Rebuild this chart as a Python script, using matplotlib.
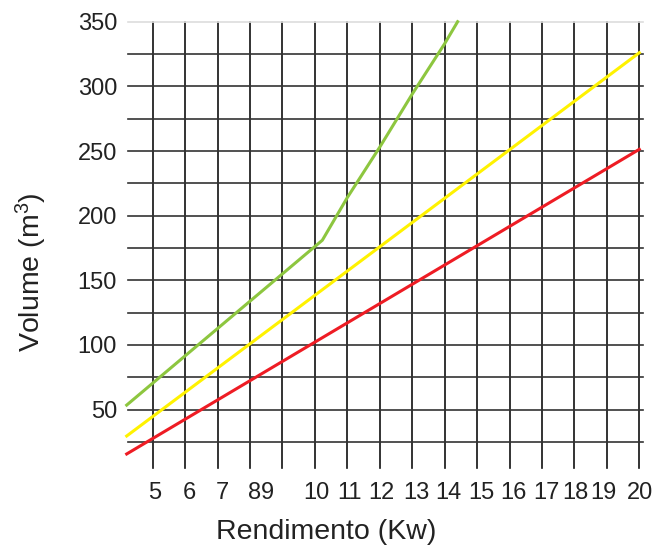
import numpy as np
import matplotlib
matplotlib.use("Agg")
import matplotlib.pyplot as plt

plt.rcParams['font.family'] = ['Liberation Sans', 'DejaVu Sans']
plt.rcParams['mathtext.fontset'] = 'custom'
plt.rcParams['mathtext.rm'] = 'Liberation Sans'
plt.rcParams['mathtext.default'] = 'regular'

# x positions are measured in grid columns (16 vertical lines, 0..15)
grid_cols = list(range(16))
tick_pos = [0.07, 1.12, 2.15, 3.15, 3.53, 5.05, 6.06, 7.05, 8.14, 9.11,
            10.14, 11.12, 12.14, 13.02, 13.89, 15.02]
tick_labels = ['5', '6', '7', '8', '9', '10', '11', '12', '13', '14',
               '15', '16', '17', '18', '19', '20']

# series (column position, volume m3)
red_x = [-0.8, 15.0]
red_y = [15.7, 251.3]
yellow_x = [-0.8, 15.0]
yellow_y = [29.6, 326.0]
green_x = [-0.8, 5.23, 6.0, 7.0, 8.0, 9.0, 9.4]
green_y = [53.5, 181.0, 214.0, 253.0, 294.0, 333.0, 350.0]

yticks = [50, 100, 150, 200, 250, 300, 350]
hlines = list(range(25, 351, 25))

fig = plt.figure(figsize=(6.6, 5.5), dpi=100)
ax = fig.add_axes([126.7 / 660, 1 - 467.8 / 550, (643.2 - 126.7) / 660, (467.8 - 21.7) / 550])
ax.set_xlim(-0.8, 15.12)
ax.set_ylim(5, 350)

# grid
for c in grid_cols:
    ax.plot([c, c], [5, 350], color='#111111', lw=1.2, zorder=1, clip_on=False)
for h in hlines:
    col = '#dddddd' if h == 350 else '#333333'
    ax.plot([-0.76, 15.12], [h, h], color=col, lw=1.2, zorder=1, clip_on=False)

ax.plot(red_x, red_y, color='#ee1c24', lw=2.2, zorder=3, clip_on=False)
ax.plot(yellow_x, yellow_y, color='#fff200', lw=2.2, zorder=3, clip_on=False)
ax.plot(green_x, green_y, color='#8dc63f', lw=2.2, zorder=3, clip_on=False)

for s in ax.spines.values():
    s.set_visible(False)

ax.set_xticks(tick_pos)
ax.set_xticklabels(tick_labels)
ax.set_yticks(yticks)
ax.tick_params(axis='both', length=0, labelsize=17, colors='#222222')
ax.tick_params(axis='x', pad=10)
ax.tick_params(axis='y', pad=7)

fig.text(326 / 660, 1 - 532 / 550, 'Rendimento (Kw)', fontsize=20.5,
         ha='center', va='center', color='#222222')
fig.text(31 / 660, 1 - 272 / 550, 'Volume (m$^3$)', fontsize=20.5, rotation=90,
         ha='center', va='center', color='#222222')

fig.savefig('out.png', dpi=100)
